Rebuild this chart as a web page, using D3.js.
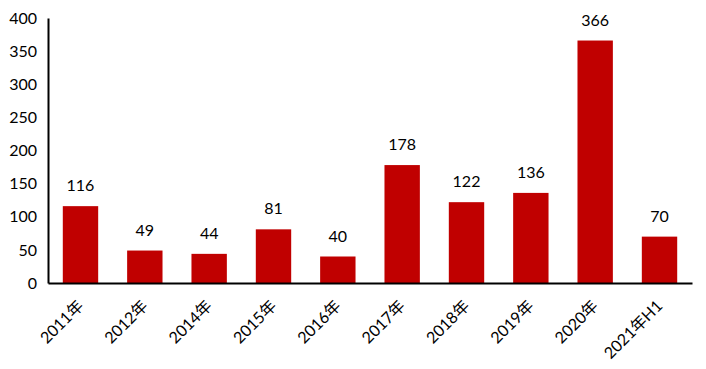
<!DOCTYPE html>
<html>
<head>
<meta charset="utf-8">
<script src="https://cdn.jsdelivr.net/npm/d3@7"></script>
<style>
  body { margin: 0; background: #fff; }
  text { font-family: Lato, "Noto Sans CJK SC", sans-serif; }
</style>
</head>
<body>
<div class="canvas"></div>
<script>
const categories = ['2011年', '2012年', '2014年', '2015年', '2016年', '2017年', '2018年', '2019年', '2020年', '2021年H1'];
const values = [116, 49, 44, 81, 40, 178, 122, 136, 366, 70];
const yTicks = [0, 50, 100, 150, 200, 250, 300, 350, 400];

const width = 706;
const height = 369;

const svg = d3.select('.canvas').append('svg')
  .attr('width', width)
  .attr('height', height);

const margin = { top: 18, right: 14, bottom: 86, left: 48 };

// scales
const x = d3.scaleBand()
  .domain(categories)
  .range([margin.left, width - margin.right])
  .paddingInner(0.45)
  .paddingOuter(0.23);

const y = d3.scaleLinear()
  .domain([0, 400])
  .range([height - margin.bottom, margin.top]);

// bars
svg.selectAll('rect')
  .data(values)
  .enter().append('rect')
  .attr('x', (d, i) => x(categories[i]))
  .attr('y', d => y(d))
  .attr('width', x.bandwidth())
  .attr('height', d => y(0) - y(d))
  .attr('fill', '#c00000');

// value labels
svg.selectAll('.val')
  .data(values)
  .enter().append('text')
  .attr('class', 'val')
  .attr('x', (d, i) => x(categories[i]) + x.bandwidth() / 2)
  .attr('y', d => y(d) - 15)
  .attr('text-anchor', 'middle')
  .attr('font-size', 16)
  .attr('fill', '#000')
  .text(d => d);

// y axis
const yAxis = d3.axisLeft(y).tickValues(yTicks).tickSize(0).tickPadding(11);
const yAxisGroup = svg.append('g')
  .attr('transform', `translate(${margin.left}, 0)`)
  .call(yAxis);
yAxisGroup.select('.domain').attr('stroke', '#000').attr('stroke-width', 2);
yAxisGroup.selectAll('text').attr('font-size', 16).attr('fill', '#000')
  .style('font-family', 'Lato, sans-serif');

// x axis
const xAxis = d3.axisBottom(x).tickSize(0).tickPadding(0);
const xAxisGroup = svg.append('g')
  .attr('transform', `translate(0, ${y(0)})`)
  .call(xAxis);
xAxisGroup.select('.domain').attr('stroke', '#000').attr('stroke-width', 2);
xAxisGroup.selectAll('text')
  .attr('font-size', 16)
  .attr('fill', '#000')
  .attr('text-anchor', 'end')
  .attr('dy', 0)
  .attr('transform', d => `translate(4, 24) rotate(-45)`);
</script>
</body>
</html>
